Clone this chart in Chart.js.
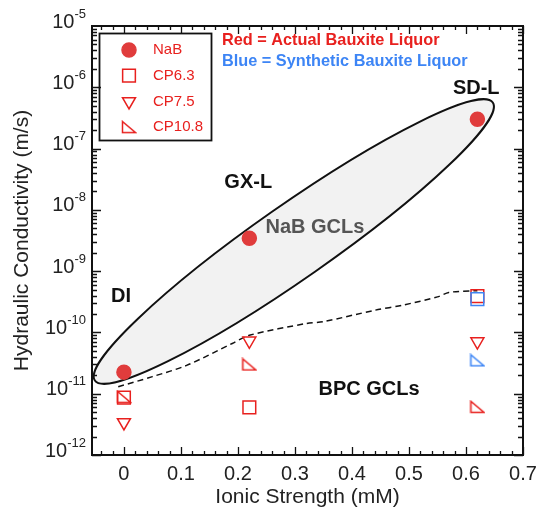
<!DOCTYPE html>
<html>
<head>
<meta charset="utf-8">
<script src="https://cdn.jsdelivr.net/npm/chart.js@4.4.1/dist/chart.umd.min.js"></script>
<style>
  html, body { margin: 0; padding: 0; background: #fff; }
  #wrap { width: 537px; height: 516px; }
</style>
</head>
<body>
<div id="wrap"><canvas id="chart" width="537" height="516"></canvas></div>
<script>
// axis ticks
const xTicks = [0, 0.1, 0.2, 0.3, 0.4, 0.5, 0.6, 0.7];
const yExponents = [-5, -6, -7, -8, -9, -10, -11, -12];

// measured hydraulic conductivity (m/s) vs ionic strength (mM)
const nabX = [0, 0.22, 0.62];
const nabK = [2.25e-11, 3.45e-9, 3.0e-7];
const cp63X = [0, 0.22, 0.62];
const cp63K = [8.6e-12, 6.0e-12, 3.9e-10];
const cp75X = [0, 0.22, 0.62];
const cp75K = [3.4e-12, 7.3e-11, 7.1e-11];
const cp108X = [0, 0.22, 0.62];
const cp108K = [8.9e-12, 3.0e-11, 6.1e-12];
const synX = [0.62];
const synCp63K = [3.5e-10];
const synCp108K = [3.5e-11];

// dashed upper bound of BPC GCLs
const trendX = [-0.01, 0.05, 0.11, 0.19, 0.22, 0.32, 0.35, 0.44, 0.49, 0.55, 0.57, 0.62];
const trendK = [1.3e-11, 1.9e-11, 2.9e-11, 6.6e-11, 9.0e-11, 1.4e-10, 1.5e-10, 2.3e-10, 2.8e-10, 3.8e-10, 4.5e-10, 4.8e-10];

// NaB GCL envelope: ends of the long axis, and short/long axis ratio
const ellipseX = [-0.051, 0.647];
const ellipseK = [1.64e-11, 5.65e-7];
const ellipseRatio = 0.152;

// text labels placed in data coordinates
const noteText = ['GX-L', 'NaB GCLs', 'SD-L', 'DI', 'BPC GCLs'];
const noteX = [0.218, 0.335, 0.618, -0.005, 0.43];
const noteK = [2.8e-8, 5.1e-9, 9.4e-7, 3.8e-10, 1.19e-11];
const noteColor = ['#111', '#555', '#111', '#111', '#111'];

const legendNames = ['NaB', 'CP6.3', 'CP7.5', 'CP10.8'];

const red = '#e8201e';
const blue = '#3d85f5';
const font = 'Arial, "Liberation Sans", sans-serif';

function pts(xs, ys) {
  return xs.map((x, i) => ({ x, y: ys[i] }));
}

function rightTriangle(color) {
  const c = document.createElement('canvas');
  c.width = 16; c.height = 14;
  const g = c.getContext('2d');
  g.strokeStyle = color;
  g.lineWidth = 1.5;
  g.beginPath();
  g.moveTo(1.5, 1.5);
  g.lineTo(1.5, 12.5);
  g.lineTo(14.5, 12.5);
  g.closePath();
  g.stroke();
  return c;
}
const triRed = rightTriangle(red);
const triBlue = rightTriangle(blue);

const markers = {
  nab: { pointStyle: 'circle', radius: 7, rotation: 0, fill: '#e03c3c', stroke: '#e03c3c' },
  cp63: { pointStyle: 'rect', radius: 9, rotation: 0, fill: 'rgba(0,0,0,0)', stroke: red },
  cp75: { pointStyle: 'triangle', radius: 7.5, rotation: 180, fill: 'rgba(0,0,0,0)', stroke: red },
  cp108: { pointStyle: triRed, radius: 7, rotation: 0, fill: 'rgba(0,0,0,0)', stroke: red }
};

function markerSet(label, data, m, order) {
  return {
    label, data, order,
    pointStyle: m.pointStyle,
    pointRadius: m.radius,
    pointRotation: m.rotation,
    pointBackgroundColor: m.fill,
    pointBorderColor: m.stroke,
    pointBorderWidth: 1.5,
    showLine: false
  };
}

const overlay = {
  id: 'overlay',
  beforeDatasetsDraw(chart) {
    const { ctx, scales: { x, y } } = chart;
    const x0 = x.getPixelForValue(ellipseX[0]), y0 = y.getPixelForValue(ellipseK[0]);
    const x1 = x.getPixelForValue(ellipseX[1]), y1 = y.getPixelForValue(ellipseK[1]);
    const a = Math.hypot(x1 - x0, y1 - y0) / 2;
    ctx.save();
    ctx.beginPath();
    ctx.ellipse((x0 + x1) / 2, (y0 + y1) / 2, a, a * ellipseRatio, Math.atan2(y1 - y0, x1 - x0), 0, Math.PI * 2);
    ctx.fillStyle = '#f2f2f2';
    ctx.fill();
    ctx.lineWidth = 2;
    ctx.strokeStyle = '#111';
    ctx.stroke();
    ctx.restore();
  },
  afterDatasetsDraw(chart) {
    const { ctx, chartArea: area, scales: { x, y } } = chart;
    ctx.save();

    // frame
    ctx.strokeStyle = '#111';
    ctx.lineWidth = 2;
    ctx.strokeRect(area.left, area.top, area.right - area.left, area.bottom - area.top);

    // inward ticks, all four sides
    ctx.lineWidth = 1.3;
    ctx.beginPath();
    for (let v = -0.04; v <= 0.701; v += 0.02) {
      const px = Math.round(x.getPixelForValue(v)) + 0.5;
      const major = Math.abs(v * 10 - Math.round(v * 10)) < 1e-6;
      const len = major ? 8 : 4;
      ctx.moveTo(px, area.bottom); ctx.lineTo(px, area.bottom - len);
      ctx.moveTo(px, area.top); ctx.lineTo(px, area.top + len);
    }
    for (let e = -12; e < -5; e++) {
      for (let m = 1; m <= 9; m++) {
        const py = Math.round(y.getPixelForValue(m * Math.pow(10, e))) + 0.5;
        const len = m === 1 ? 9 : 5;
        ctx.moveTo(area.left, py); ctx.lineTo(area.left + len, py);
        ctx.moveTo(area.right, py); ctx.lineTo(area.right - len, py);
      }
    }
    ctx.stroke();

    // y tick labels 10^n
    ctx.fillStyle = '#222';
    yExponents.forEach(e => {
      const py = y.getPixelForValue(Math.pow(10, e));
      const sup = String(e);
      ctx.font = '13px ' + font;
      const sw = ctx.measureText(sup).width;
      const right = area.left - 6;
      ctx.textAlign = 'left';
      ctx.textBaseline = 'middle';
      ctx.fillText(sup, right - sw, py - 12);
      ctx.font = '20px ' + font;
      ctx.textAlign = 'right';
      ctx.fillText('10', right - sw, py - 4);
    });

    // annotations
    ctx.font = 'bold 20px ' + font;
    ctx.textAlign = 'center';
    ctx.textBaseline = 'middle';
    noteText.forEach((t, i) => {
      ctx.fillStyle = noteColor[i];
      ctx.fillText(t, x.getPixelForValue(noteX[i]), y.getPixelForValue(noteK[i]));
    });
    ctx.font = 'bold 16.3px ' + font;
    ctx.textAlign = 'left';
    ctx.fillStyle = red;
    ctx.fillText('Red = Actual Bauxite Liquor', x.getPixelForValue(0.172), y.getPixelForValue(5.7e-6));
    ctx.fillStyle = blue;
    ctx.fillText('Blue = Synthetic Bauxite Liquor', x.getPixelForValue(0.172), y.getPixelForValue(2.6e-6));

    // legend box
    ctx.strokeStyle = '#111';
    ctx.lineWidth = 1.8;
    ctx.strokeRect(99.5, 33.5, 112, 107);
    const keys = ['nab', 'cp63', 'cp75', 'cp108'];
    ctx.font = '15px ' + font;
    legendNames.forEach((name, i) => {
      const m = markers[keys[i]];
      const ly = 50 + i * 25.7;
      ctx.save();
      ctx.fillStyle = m.fill;
      ctx.strokeStyle = m.stroke;
      ctx.lineWidth = 1.5;
      Chart.helpers.drawPoint(ctx, { pointStyle: m.pointStyle, radius: m.radius, rotation: m.rotation, borderWidth: 1.5 }, 129, ly);
      ctx.restore();
      ctx.fillStyle = red;
      ctx.fillText(name, 153, ly);
    });

    ctx.restore();
  }
};

new Chart(document.getElementById('chart'), {
  type: 'scatter',
  data: {
    datasets: [
      markerSet('NaB', pts(nabX, nabK), markers.nab, 1),
      markerSet('CP6.3 synthetic', pts(synX, synCp63K), { ...markers.cp63, stroke: blue }, 2),
      markerSet('CP6.3', pts(cp63X, cp63K), markers.cp63, 3),
      markerSet('CP7.5', pts(cp75X, cp75K), markers.cp75, 4),
      markerSet('CP10.8 synthetic', pts(synX, synCp108K), { ...markers.cp108, pointStyle: triBlue, stroke: blue }, 5),
      markerSet('CP10.8', pts(cp108X, cp108K), markers.cp108, 6),
      {
        label: 'BPC bound',
        data: pts(trendX, trendK),
        order: 7,
        showLine: true,
        borderColor: '#111',
        borderWidth: 1.5,
        borderDash: [6, 4],
        tension: 0.3,
        pointRadius: 0,
        fill: false
      }
    ]
  },
  options: {
    responsive: false,
    animation: false,
    events: [],
    layout: { padding: { left: 0, top: 26, right: 14, bottom: 0 } },
    plugins: { legend: { display: false }, tooltip: { enabled: false } },
    scales: {
      x: {
        type: 'linear',
        min: -0.056,
        max: 0.7,
        afterBuildTicks(scale) { scale.ticks = xTicks.map(v => ({ value: v })); },
        afterFit(scale) {
          scale.height = 61;
          scale.paddingLeft = 0;
          scale.paddingRight = 0;
        },
        grid: { display: false, drawTicks: false },
        border: { display: false },
        ticks: {
          color: '#222',
          padding: 7,
          maxRotation: 0,
          font: { family: font, size: 20 },
          callback: v => String(v)
        },
        title: {
          display: true,
          text: 'Ionic Strength (mM)',
          color: '#222',
          font: { family: font, size: 21 },
          padding: { bottom: 6 }
        }
      },
      y: {
        type: 'logarithmic',
        min: 1e-12,
        max: 1e-5,
        afterFit(scale) {
          scale.width = 92;
          scale.paddingTop = 0;
          scale.paddingBottom = 0;
        },
        grid: { display: false, drawTicks: false },
        border: { display: false },
        ticks: { display: false },
        title: {
          display: true,
          text: 'Hydraulic Conductivity (m/s)',
          color: '#222',
          font: { family: font, size: 21 },
          padding: { top: 10 }
        }
      }
    }
  },
  plugins: [overlay]
});
</script>
</body>
</html>
